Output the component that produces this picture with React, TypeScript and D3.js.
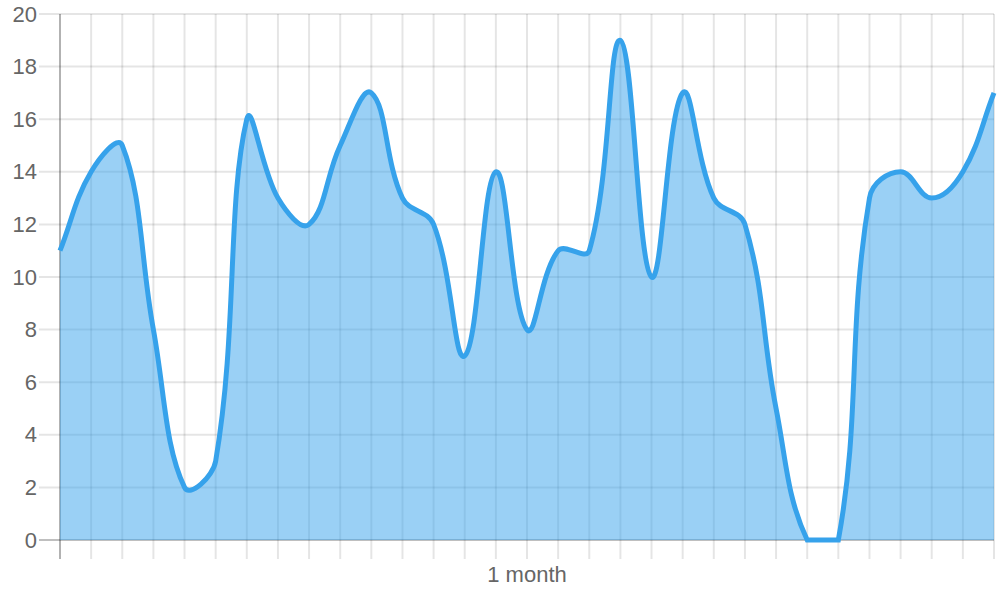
import React from "react";
import * as d3 from "d3";

const days: number[] = d3.range(1, 32);
const values: number[] = [11, 14, 15, 8, 2, 3, 16, 13, 12, 15, 17, 13, 12, 7, 14, 8, 11, 11, 19, 10, 17, 13, 12, 5, 0, 0, 13, 14, 13, 14, 17];
const yTicks: number[] = [0, 2, 4, 6, 8, 10, 12, 14, 16, 18, 20];
const xTitle = "1 month";

const W = 1000;
const H = 600;
const left = 60;
const right = 994;
const top = 14;
const bottom = 540;
const tension = 0.4;

type P = { x: number; y: number; cp1x?: number; cp1y?: number; cp2x?: number; cp2y?: number };

function buildPath(pts: P[], area: { left: number; right: number; top: number; bottom: number }): string {
  const n = pts.length;
  let prev = pts[0];
  for (let i = 0; i < n; i++) {
    const cur = pts[i];
    const next = pts[Math.min(i + 1, n - 1)];
    const d01 = Math.hypot(cur.x - prev.x, cur.y - prev.y);
    const d12 = Math.hypot(next.x - cur.x, next.y - cur.y);
    let s01 = d01 / (d01 + d12);
    let s12 = d12 / (d01 + d12);
    if (isNaN(s01)) s01 = 0;
    if (isNaN(s12)) s12 = 0;
    const fa = tension * s01;
    const fb = tension * s12;
    cur.cp1x = cur.x - fa * (next.x - prev.x);
    cur.cp1y = cur.y - fa * (next.y - prev.y);
    cur.cp2x = cur.x + fb * (next.x - prev.x);
    cur.cp2y = cur.y + fb * (next.y - prev.y);
    prev = cur;
  }
  const clamp = (v: number, a: number, b: number) => Math.max(a, Math.min(b, v));
  for (let i = 0; i < n; i++) {
    const p = pts[i];
    if (i > 0) {
      p.cp1x = clamp(p.cp1x!, area.left, area.right);
      p.cp1y = clamp(p.cp1y!, area.top, area.bottom);
    }
    if (i < n - 1) {
      p.cp2x = clamp(p.cp2x!, area.left, area.right);
      p.cp2y = clamp(p.cp2y!, area.top, area.bottom);
    }
  }
  const path = d3.path();
  path.moveTo(pts[0].x, pts[0].y);
  for (let i = 1; i < n; i++) {
    const a = pts[i - 1];
    const b = pts[i];
    path.bezierCurveTo(a.cp2x!, a.cp2y!, b.cp1x!, b.cp1y!, b.x, b.y);
  }
  return path.toString();
}

export default function App() {
  const x = d3.scaleLinear().domain([1, days.length]).range([left, right]);
  const y = d3.scaleLinear().domain([0, 20]).range([bottom, top]);
  const pts: P[] = values.map((v, i) => ({ x: x(days[i]), y: y(v) }));
  const linePath = buildPath(pts, { left, right, top, bottom });
  const areaPath = linePath + `L${x(days[days.length - 1])},${y(0)}L${x(days[0])},${y(0)}Z`;
  const font = "'Liberation Sans', Arial, Helvetica, sans-serif";
  const grid = "rgba(0,0,0,0.1)";
  return (
    <svg width={W} height={H} style={{ position: "absolute", left: 0, top: 0 }}>
      <rect x={0} y={0} width={W} height={H} fill="#fff" />
      {yTicks.map((t) => (
        <line key={"gy" + t} x1={39} x2={right} y1={y(t)} y2={y(t)} stroke={t === 0 ? "rgba(0,0,0,0.25)" : grid} strokeWidth={2} />
      ))}
      {days.map((d, i) => (
        <line key={"gx" + d} x1={x(d)} x2={x(d)} y1={top} y2={559} stroke={i === 0 ? "rgba(0,0,0,0.3)" : grid} strokeWidth={2} />
      ))}
      <path d={areaPath} fill="rgba(54,162,235,0.5)" stroke="none" />
      <path d={linePath} fill="none" stroke="rgb(54,162,235)" strokeWidth={5} strokeLinejoin="miter" />
      {yTicks.map((t) => (
        <text key={"ty" + t} x={37} y={y(t)} textAnchor="end" dominantBaseline="central" fontFamily={font} fontSize={22} fill="#666">
          {t}
        </text>
      ))}
      <text x={(left + right) / 2} y={582} textAnchor="middle" fontFamily={font} fontSize={22} fill="#666">
        {xTitle}
      </text>
    </svg>
  );
}
